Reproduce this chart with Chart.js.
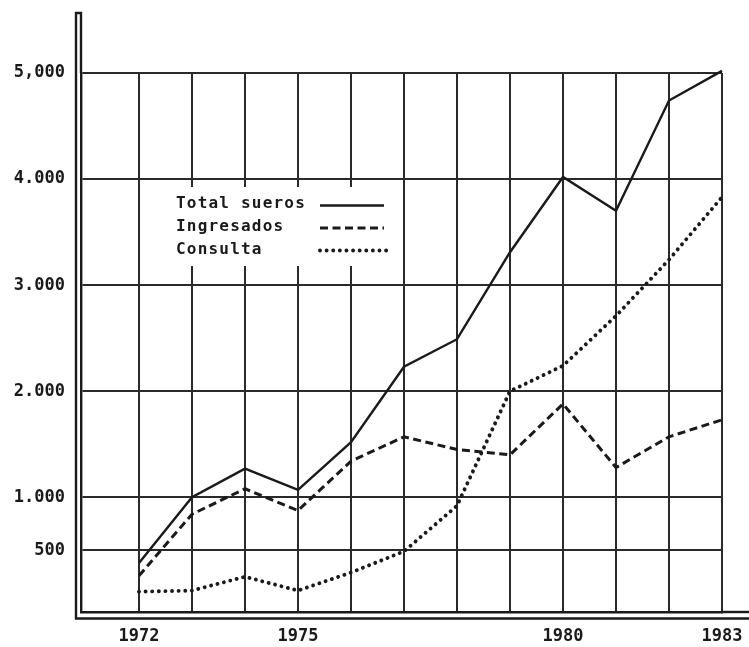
<!DOCTYPE html>
<html>
<head>
<meta charset="utf-8">
<script src="https://cdn.jsdelivr.net/npm/chart.js@4.4.1/dist/chart.umd.min.js"></script>
<style>
  html, body { margin: 0; padding: 0; background: #ffffff; }
  #wrap { width: 749px; height: 647px; position: relative; }
</style>
</head>
<body>
<div id="wrap"><canvas id="c"></canvas></div>
<script>
// ---- data ----
const years = [1972, 1973, 1974, 1975, 1976, 1977, 1978, 1979, 1980, 1981, 1982, 1983];
const totalSueros = [380, 1000, 1270, 1070, 1520, 2230, 2490, 3310, 4020, 3700, 4740, 5020];
const ingresados  = [260, 840, 1080, 875, 1340, 1570, 1450, 1400, 1880, 1280, 1570, 1730];
const consulta    = [110, 120, 250, 120, 290, 490, 920, 2000, 2240, 2710, 3240, 3830];
const yTicks      = [500, 1000, 2000, 3000, 4000, 5000];
const yTickLabels = ['500', '1.000', '2.000', '3.000', '4.000', '5,000'];
const xLabelYears = [1972, 1975, 1980, 1983];
const seriesNames = ['Total sueros', 'Ingresados', 'Consulta'];

const INK = '#1a1a1a';
const GRID = '#2a2a2a';
const FONT = 'DejaVu Sans Mono';

const toPts = arr => arr.map((v, i) => ({ x: years[i], y: v }));

const styles = [
  { borderWidth: 2.4, borderDash: [], borderCapStyle: 'butt' },
  { borderWidth: 3.0, borderDash: [8, 4.5], borderCapStyle: 'butt' },
  { borderWidth: 3.9, borderDash: [0.01, 6.6], borderCapStyle: 'round' }
];

// plugin: axis frame extensions + in-plot legend box
const framePlugin = {
  id: 'frame',
  beforeDatasetsDraw(chart) {
    const ctx = chart.ctx;
    ctx.save();
    ctx.fillStyle = '#ffffff';
    ctx.fillRect(152, 187, 243, 79);
    ctx.fillStyle = INK;
    ctx.font = 'bold 16px "' + FONT + '"';
    try { ctx.letterSpacing = '1.2px'; } catch (e) {}
    ctx.textBaseline = 'middle';
    ctx.textAlign = 'left';
    const rows = [204, 226.5, 249.5];
    seriesNames.forEach((name, i) => {
      ctx.fillText(name, 176, rows[i]);
    });
    try { ctx.letterSpacing = '0px'; } catch (e) {}
    const sampleY = [205.5, 228, 250.5];
    styles.forEach((s, i) => {
      ctx.beginPath();
      ctx.strokeStyle = INK;
      ctx.lineWidth = s.borderWidth;
      ctx.setLineDash(s.borderDash);
      ctx.lineCap = s.borderCapStyle;
      ctx.moveTo(320, sampleY[i]);
      ctx.lineTo(i === 2 ? 387 : 384, sampleY[i]);
      ctx.stroke();
    });
    ctx.restore();
  },
  afterDraw(chart) {
    const ctx = chart.ctx;
    const a = chart.chartArea;
    ctx.save();
    ctx.strokeStyle = INK;
    ctx.lineWidth = 2.4;
    ctx.setLineDash([]);
    ctx.lineCap = 'butt';
    ctx.beginPath();
    ctx.moveTo(a.left, a.top);
    ctx.lineTo(a.left, 13);
    ctx.lineTo(76, 13);
    ctx.lineTo(76, 618.5);
    ctx.lineTo(749, 618.5);
    ctx.stroke();
    ctx.beginPath();
    ctx.moveTo(a.right, a.bottom);
    ctx.lineTo(749, a.bottom);
    ctx.stroke();
    ctx.restore();
  }
};

new Chart(document.getElementById('c'), {
  type: 'line',
  data: {
    datasets: [
      { label: seriesNames[0], data: toPts(totalSueros), borderColor: INK, ...styles[0], pointRadius: 0, tension: 0, fill: false, clip: false },
      { label: seriesNames[1], data: toPts(ingresados),  borderColor: INK, ...styles[1], pointRadius: 0, tension: 0, fill: false, clip: false },
      { label: seriesNames[2], data: toPts(consulta),    borderColor: INK, ...styles[2], pointRadius: 0, tension: 0, fill: false, clip: false }
    ]
  },
  options: {
    responsive: true,
    maintainAspectRatio: false,
    animation: false,
    events: [],
    layout: { padding: { top: 73, right: 27, left: 0, bottom: 0 } },
    plugins: { legend: { display: false }, tooltip: { enabled: false } },
    scales: {
      x: {
        type: 'linear',
        min: 1972 - (139 - 81) / 53,
        max: 1983,
        afterBuildTicks: s => { s.ticks = years.map(v => ({ value: v })); },
        afterFit: s => { s.height = 35; s.paddingLeft = 0; s.paddingRight = 0; },
        grid: { color: GRID, lineWidth: 2, drawTicks: false },
        border: { display: true, color: INK, width: 2.4 },
        ticks: {
          padding: 14,
          color: INK,
          font: { family: FONT, size: 17, weight: 'bold' },
          maxRotation: 0,
          autoSkip: false,
          callback: v => xLabelYears.includes(v) ? String(v) : ''
        }
      },
      y: {
        type: 'linear',
        min: -82,
        max: 5000,
        afterBuildTicks: s => { s.ticks = yTicks.map(v => ({ value: v })); },
        afterFit: s => { s.width = 81; s.paddingTop = 0; s.paddingBottom = 0; },
        grid: { color: GRID, lineWidth: 2, drawTicks: false },
        border: { display: true, color: INK, width: 2.4 },
        ticks: {
          padding: 16,
          color: INK,
          font: { family: FONT, size: 17, weight: 'bold' },
          autoSkip: false,
          callback: v => { const i = yTicks.indexOf(v); return i >= 0 ? yTickLabels[i] : ''; }
        }
      }
    }
  },
  plugins: [framePlugin]
});
</script>
</body>
</html>
